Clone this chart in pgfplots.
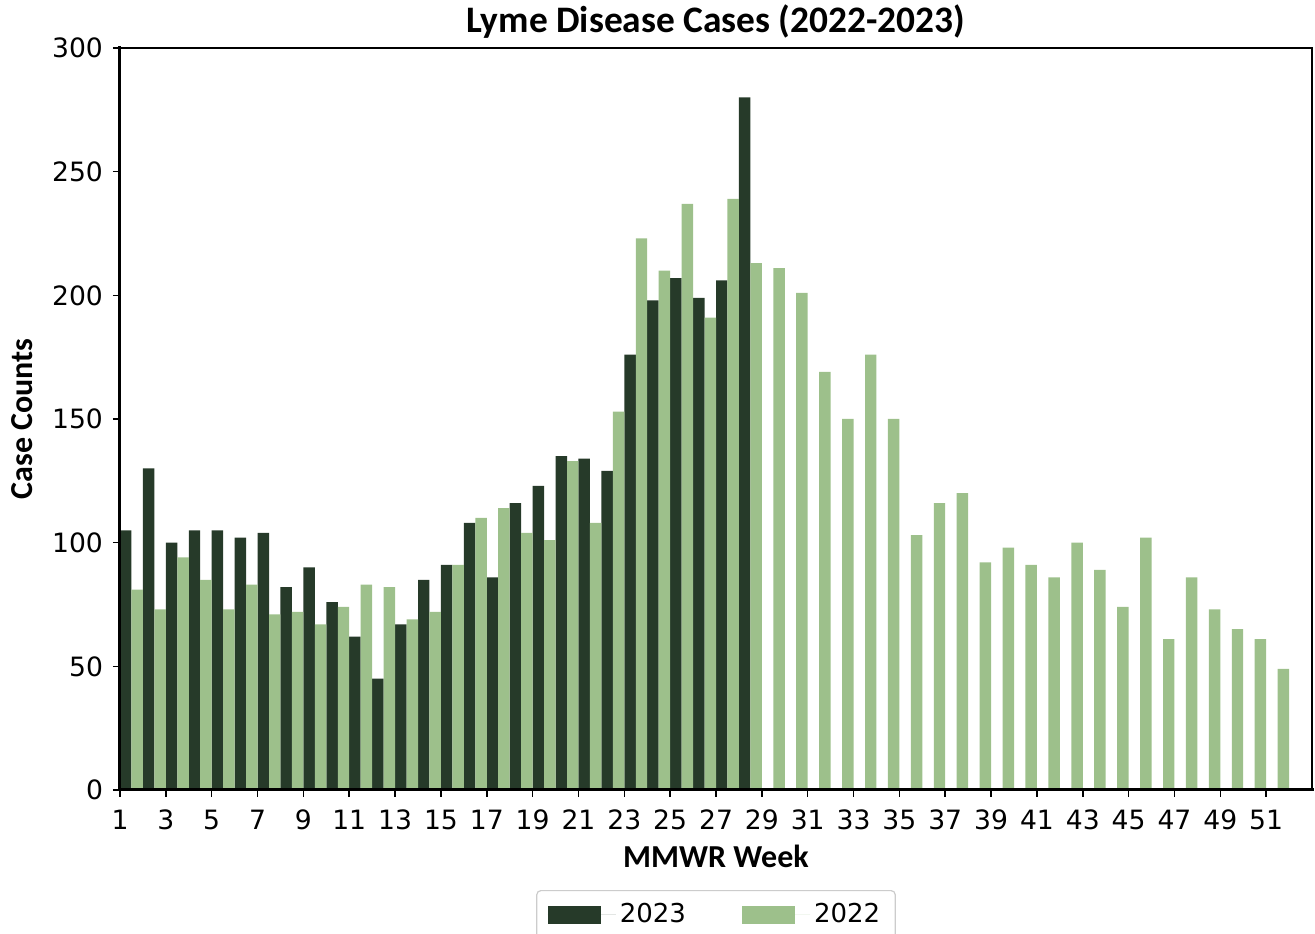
\documentclass[border=0pt]{standalone}
\usepackage{pgfplots}
\pgfplotsset{compat=1.18}
\usepackage{fontspec}
\setmainfont{DejaVu Sans}
\newfontfamily\carlito{Carlito}
\usetikzlibrary{calc}
\definecolor{c23}{HTML}{263A29}
\definecolor{c22}{HTML}{9DC08B}

\begin{document}
\begin{tikzpicture}
\begin{axis}[
  scale only axis,
  width=596pt, height=371pt,
  xmin=1, xmax=53, ymin=0, ymax=300,
  xtick={1,3,...,51},
  ytick={0,50,...,300},
  tick align=outside,
  xtick pos=bottom, ytick pos=left,
  major tick length=3.5pt,
  every tick/.style={black, line width=0.75pt},
  axis line style={line width=0.8pt},
  /pgf/number format/assume math mode=true,
  ticklabel style={font=\fontsize{13.3}{16}\selectfont},
  xticklabel style={yshift=-3pt},
  yticklabel style={xshift=-1.5pt},
  title={Lyme Disease Cases (2022-2023)},
  title style={font=\carlito\bfseries\fontsize{18.7}{22}\selectfont, at={(axis description cs:0.5,1)}, anchor=center, yshift=7pt},
  xlabel={MMWR Week},
  xlabel style={font=\carlito\bfseries\fontsize{16}{19}\selectfont, at={(axis description cs:0.5,-0.089)}, anchor=center},
  ylabel={Case Counts},
  ylabel style={font=\carlito\bfseries\fontsize{16}{19}\selectfont, at={(axis description cs:-0.0822,0.5)}, anchor=center, rotate=0},
  ybar, bar width=0.5,
  legend columns=2,
  legend style={at={(axis description cs:0.5,-0.1348)}, anchor=north, draw=black!20, line width=0.6pt, rounded corners=2pt,
    font=\fontsize{13}{15}\selectfont, inner xsep=5.5pt, inner ysep=4.5pt,
    /tikz/every even column/.append style={column sep=26pt}},
  clip=false,
]
\addplot[fill=c23, draw=none, bar shift=0.25,
  legend image code/.code={\fill[c23, sharp corners] (0pt,-4.5pt) rectangle (26.5pt,4.5pt); \path (0pt,0pt) -- (34pt,0pt);}]
  coordinates {
  (1,105) (2,130) (3,100) (4,105) (5,105) (6,102) (7,104) (8,82) (9,90) (10,76)
  (11,62) (12,45) (13,67) (14,85) (15,91) (16,108) (17,86) (18,116) (19,123) (20,135)
  (21,134) (22,129) (23,176) (24,198) (25,207) (26,199) (27,206) (28,280)
  };
\addlegendentry{2023}
\addplot[fill=c22, draw=none, bar shift=0.75,
  legend image code/.code={\fill[c22, sharp corners] (0pt,-4.5pt) rectangle (26.5pt,4.5pt); \path (0pt,0pt) -- (34pt,0pt);}]
  coordinates {
  (1,81) (2,73) (3,94) (4,85) (5,73) (6,83) (7,71) (8,72) (9,67) (10,74)
  (11,83) (12,82) (13,69) (14,72) (15,91) (16,110) (17,114) (18,104) (19,101) (20,133)
  (21,108) (22,153) (23,223) (24,210) (25,237) (26,191) (27,239) (28,213)
  (29,211) (30,201) (31,169) (32,150) (33,176) (34,150) (35,103) (36,116)
  (37,120) (38,92) (39,98) (40,91) (41,86) (42,100) (43,89) (44,74)
  (45,102) (46,61) (47,86) (48,73) (49,65) (50,61) (51,49)
  };
\addlegendentry{2022}
\draw[line width=1.5pt, line cap=rect] (rel axis cs:0,1) -- (rel axis cs:0,0) -- (rel axis cs:1,0);
\end{axis}
\pgfresetboundingbox
\path[use as bounding box] ($(current axis.south west)+(-60pt,-72pt)$) rectangle ($(current axis.north east)+(1.5pt,24pt)$);
\end{tikzpicture}
\end{document}
